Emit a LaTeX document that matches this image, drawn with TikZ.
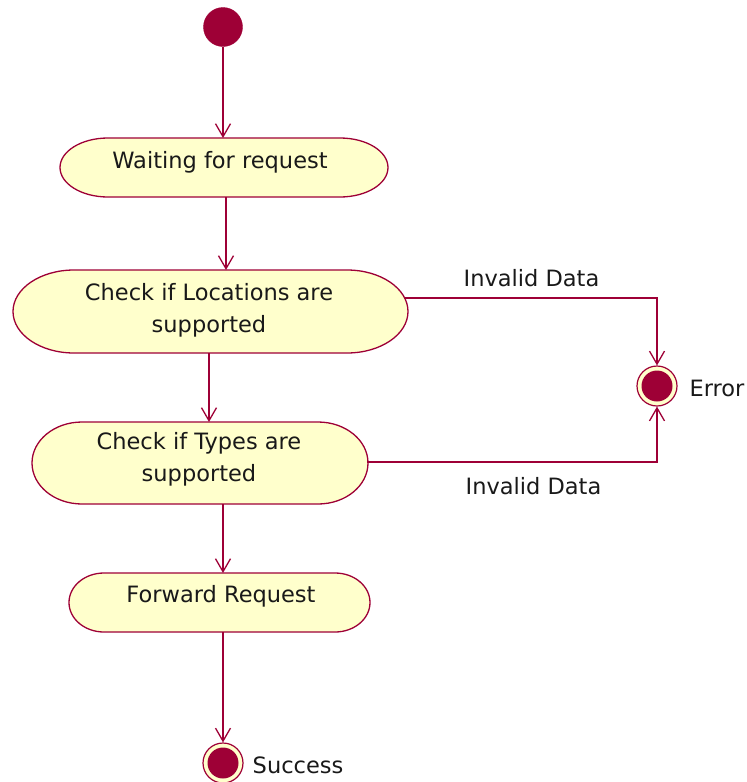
\documentclass[tikz,border=0pt]{standalone}
\usepackage{fontspec}
\setmainfont{DejaVu Sans}
\usetikzlibrary{arrows.meta}
\definecolor{umlred}{RGB}{158,0,54}
\definecolor{umlfill}{RGB}{255,255,204}

% Activity outline: flat top and bottom with elliptical caps
% #1 cx, #2 cy, #3 half width, #4 half height, #5 cap x-radius
\newcommand\activityshape[5]{%
  \filldraw[stateline]
    ({#1-#3+#5},{#2-#4}) -- ({#1+#3-#5},{#2-#4})
    arc[start angle=-90,end angle=90,x radius=#5,y radius=#4]
    -- ({#1-#3+#5},{#2+#4})
    arc[start angle=90,end angle=270,x radius=#5,y radius=#4] -- cycle;}

\begin{document}
\begin{tikzpicture}[x=1pt,y=-1pt,
  stateline/.style={draw=umlred,fill=umlfill,line width=1.3pt},
  anchorbox/.style={rectangle,inner sep=0pt,outer sep=0pt,draw=none},
  txt/.style={font=\fontsize{22.5}{32}\selectfont,inner sep=0pt,align=center,text=black!90},
  flow/.style={draw=umlred,line width=1.3pt,-{Straight Barb[length=13pt,width=15pt]}},
  initstate/.style={circle,fill=umlred,draw=umlred,minimum size=39pt,inner sep=0pt},
  endstate/.style={circle,fill=umlfill,draw=umlred,line width=1.2pt,minimum size=40pt,inner sep=0pt,
    path picture={\fill[umlred] (path picture bounding box.center) circle[radius=15.5pt];}}]
\useasboundingbox (0,0) rectangle (747,782);

% initial state
\node[initstate] (start) at (223,27) {};

% activities
\activityshape{224}{167.5}{164}{29.5}{48}
\node[anchorbox,minimum width=328pt,minimum height=59pt] (wait) at (224,167.5) {};
\node[txt,anchor=base] (waittxt) at (220,168) {Waiting for request};

\activityshape{210.5}{311.5}{197.5}{41.5}{61}
\node[anchorbox,minimum width=395pt,minimum height=83pt] (loc) at (210.5,311.5) {};
\node[txt] (loctxt) at (209,310) {Check if Locations are\\supported};

\activityshape{200}{463}{168}{41}{50}
\node[anchorbox,minimum width=336pt,minimum height=82pt] (types) at (200,463) {};
\node[txt] (typestxt) at (199,459) {Check if Types are\\supported};

\activityshape{219.5}{602.5}{150.5}{29.5}{35}
\node[anchorbox,minimum width=301pt,minimum height=59pt] (fwd) at (219.5,602.5) {};
\node[txt,anchor=base] (fwdtxt) at (221,602) {Forward Request};

% final states
\node[endstate] (err) at (657,386) {};
\node[txt,anchor=base] (errtxt) at (717,396) {Error};
\node[endstate] (succ) at (223,763) {};
\node[txt,anchor=base] (succtxt) at (298,773) {Success};

% transitions
\draw[flow] (start.south) -- (start.south |- wait.north);
\draw[flow] ([xshift=2pt]wait.south) -- ([xshift=2pt]wait.south |- loc.north);
\draw[flow] ([xshift=-1.5pt]loc.south) -- ([xshift=-1.5pt]loc.south |- types.north);
\draw[flow] (types.south -| succ.north) -- (fwd.north -| succ.north);
\draw[flow] (fwd.south -| succ.north) -- (succ.north);
\draw[flow] ([shift={(-4pt,13.5pt)}]loc.east) -| (err.north);
\draw[flow] ([shift={(-1pt,1pt)}]types.east) -| (err.south);

% guard labels
\node[txt,anchor=base] (lblA) at (531.5,286) {Invalid Data};
\node[txt,anchor=base] (lblB) at (533.5,494) {Invalid Data};
\end{tikzpicture}
\end{document}
